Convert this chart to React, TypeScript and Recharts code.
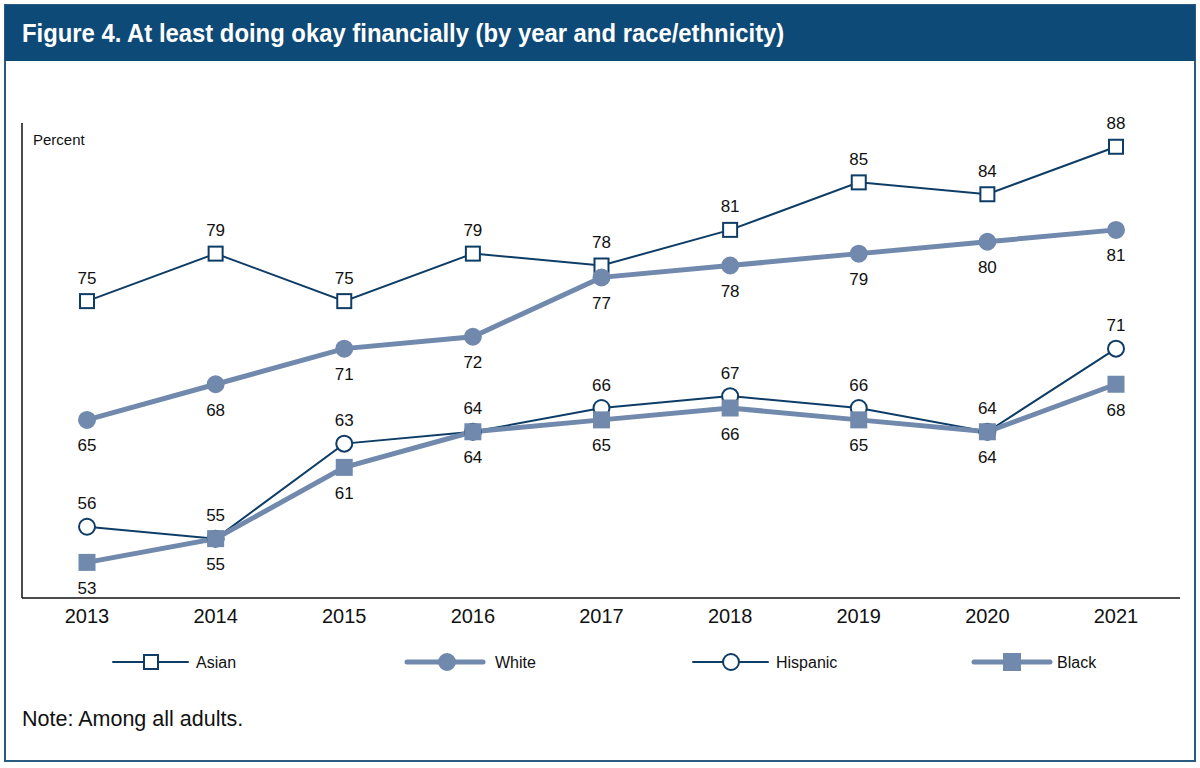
import React from 'react';
import { LineChart, Line, XAxis, YAxis, LabelList } from 'recharts';

const years = ['2013', '2014', '2015', '2016', '2017', '2018', '2019', '2020', '2021'];
const asian = [75, 79, 75, 79, 78, 81, 85, 84, 88];
const white = [65, 68, 71, 72, 77, 78, 79, 80, 81];
const hispanic = [56, 55, 63, 64, 66, 67, 66, 64, 71];
const black = [53, 55, 61, 64, 65, 66, 65, 64, 68];

const data = years.map((year, i) => ({
  year,
  Asian: asian[i],
  White: white[i],
  Hispanic: hispanic[i],
  Black: black[i],
}));

const NAVY = '#0d3d66';
const SLATE = '#7189ac';
const FONT = '"Liberation Sans", Arial, sans-serif';

const squareDot = (fill: string, stroke: string, size: number) => (props: any) => {
  const { cx, cy, index } = props;
  if (cx == null || cy == null) return <g key={index} />;
  return (
    <rect key={index} x={cx - size / 2} y={cy - size / 2} width={size} height={size}
      fill={fill} stroke={stroke} strokeWidth={2} />
  );
};

const circleDot = (fill: string, stroke: string, r: number) => (props: any) => {
  const { cx, cy, index } = props;
  if (cx == null || cy == null) return <g key={index} />;
  return <circle key={index} cx={cx} cy={cy} r={r} fill={fill} stroke={stroke} strokeWidth={2} />;
};

const valueLabel = (dy: number) => (props: any) => {
  const { x, y, value, index } = props;
  return (
    <text key={index} x={x} y={y + dy} textAnchor="middle" dominantBaseline="central"
      fontFamily={FONT} fontSize={17} fill="#111">
      {value}
    </text>
  );
};

const YearTick = (props: any) => {
  const { x, y, payload } = props;
  return (
    <text x={x} y={y + 10} textAnchor="middle" dominantBaseline="central"
      fontFamily={FONT} fontSize={20} fill="#111">
      {payload.value}
    </text>
  );
};

const legendItems = [
  { name: 'Asian', x1: 113, x2: 188, mx: 151, text: 196, thick: false, shape: 'square' },
  { name: 'White', x1: 407, x2: 483, mx: 447, text: 495, thick: true, shape: 'circle' },
  { name: 'Hispanic', x1: 693, x2: 768, mx: 731, text: 776, thick: false, shape: 'circle' },
  { name: 'Black', x1: 974, x2: 1050, mx: 1012, text: 1057, thick: true, shape: 'square' },
];

const ChartLegend = () => (
  <svg width={1200} height={30} style={{ position: 'absolute', left: 0, top: 647 }}>
    {legendItems.map((it) => {
      const color = it.thick ? SLATE : NAVY;
      const fill = it.thick ? SLATE : '#fff';
      return (
        <g key={it.name}>
          <line x1={it.x1} x2={it.x2} y1={15} y2={15} stroke={color}
            strokeWidth={it.thick ? 5 : 2} strokeLinecap="round" />
          {it.shape === 'square' ? (
            <rect x={it.mx - (it.thick ? 8 : 7)} y={15 - (it.thick ? 8 : 7)}
              width={it.thick ? 16 : 14} height={it.thick ? 16 : 14}
              fill={fill} stroke={color} strokeWidth={2} />
          ) : (
            <circle cx={it.mx} cy={15} r={8} fill={fill} stroke={color} strokeWidth={2} />
          )}
          <text x={it.text} y={15} dominantBaseline="central" fontFamily={FONT}
            fontSize={16} fill="#111">
            {it.name}
          </text>
        </g>
      );
    })}
  </svg>
);

export default function App() {
  return (
    <div style={{ position: 'absolute', left: 0, top: 0, width: 1200, height: 768, background: '#fff' }}>
      <div style={{
        position: 'absolute', left: 4, top: 4, width: 1188, height: 754,
        border: '2px solid #2b5a80', background: '#fff',
      }} />
      <div style={{
        position: 'absolute', left: 5, top: 5, width: 1190, height: 56, background: '#0e4a78',
        display: 'flex', alignItems: 'center',
      }}>
        <span style={{
          marginLeft: 17, color: '#fff', fontFamily: FONT, fontWeight: 700, fontSize: 26,
          transform: 'scaleX(0.917)', transformOrigin: 'left center', whiteSpace: 'nowrap',
          display: 'inline-block',
        }}>
          Figure 4. At least doing okay financially (by year and race/ethnicity)
        </span>
      </div>
      <div style={{
        position: 'absolute', left: 33, top: 131, fontFamily: FONT, fontSize: 15, color: '#111',
      }}>
        Percent
      </div>
      <div style={{ position: 'absolute', left: 0, top: 0 }}>
        <LineChart width={1200} height={640} data={data}
          margin={{ top: 123, right: 20, left: 21, bottom: 2 }}>
          <XAxis dataKey="year" padding={{ left: 65, right: 64 }} tickLine={false}
            axisLine={{ stroke: '#111', strokeWidth: 1.5 }} tick={<YearTick />} height={40} interval={0} />
          <YAxis domain={[50, 90]} width={1} tick={false} tickLine={false}
            axisLine={{ stroke: '#111', strokeWidth: 1.5 }} />
          <Line dataKey="Asian" stroke={NAVY} strokeWidth={2} isAnimationActive={false}
            dot={squareDot('#fff', NAVY, 14)} activeDot={false}>
            <LabelList dataKey="Asian" content={valueLabel(-23)} />
          </Line>
          <Line dataKey="Hispanic" stroke={NAVY} strokeWidth={2} isAnimationActive={false}
            dot={circleDot('#fff', NAVY, 8)} activeDot={false}>
            <LabelList dataKey="Hispanic" content={valueLabel(-23)} />
          </Line>
          <Line dataKey="White" stroke={SLATE} strokeWidth={5} isAnimationActive={false}
            dot={circleDot(SLATE, SLATE, 8)} activeDot={false}>
            <LabelList dataKey="White" content={valueLabel(26)} />
          </Line>
          <Line dataKey="Black" stroke={SLATE} strokeWidth={5} isAnimationActive={false}
            dot={squareDot(SLATE, SLATE, 15)} activeDot={false}>
            <LabelList dataKey="Black" content={valueLabel(26)} />
          </Line>
        </LineChart>
      </div>
      <ChartLegend />
      <div style={{
        position: 'absolute', left: 22, top: 707, fontFamily: FONT, fontSize: 21.5, color: '#111',
      }}>
        Note: Among all adults.
      </div>
    </div>
  );
}
